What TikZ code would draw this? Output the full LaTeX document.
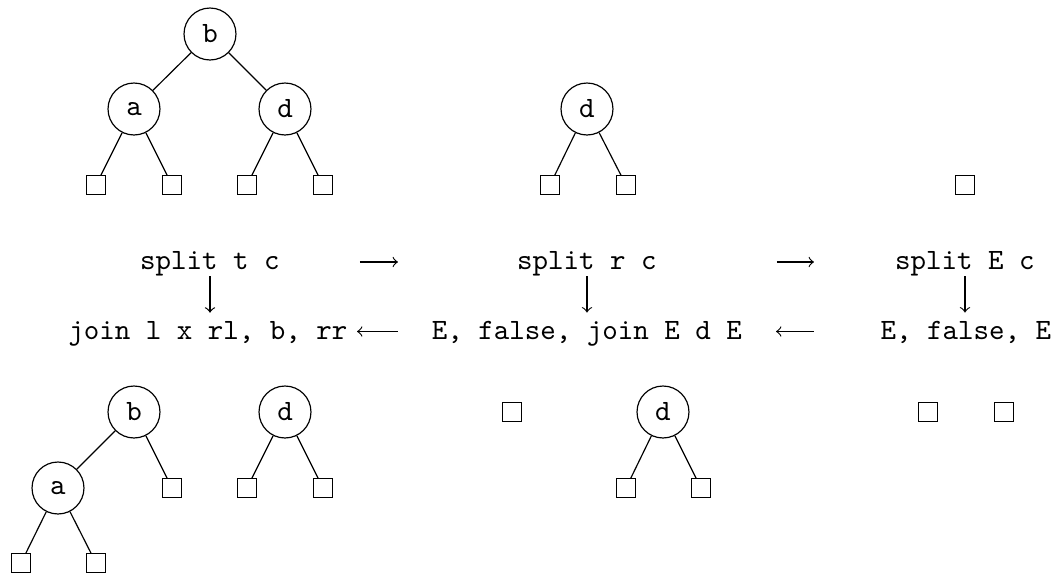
\documentclass[tikz,border=0pt]{standalone}
\begin{document}
\begin{tikzpicture}[x=0.3387pt,y=-0.3387pt,
  key/.style={draw,circle,minimum size=17.6pt,inner sep=0pt,font=\ttfamily},
  leaf/.style={draw,rectangle,minimum size=6.2pt,inner sep=0pt},
  expr/.style={anchor=base,inner sep=0pt,font=\ttfamily},
  step arrow/.style={->,line width=0.4pt},
  every path/.style={line width=0.4pt}]
\useasboundingbox (0,0) rectangle (1054,577);

% ---- trees before the split ----
\node[key] (t1b) at (210,34) {b};
\node[key] (t1a) at (134,109) {a};
\node[key] (t1d) at (285,109) {d};
\node[leaf] (t1l1) at (96,185) {};
\node[leaf] (t1l2) at (172,185) {};
\node[leaf] (t1l3) at (247,185) {};
\node[leaf] (t1l4) at (323,185) {};
\draw (t1b) -- (t1a) (t1b) -- (t1d)
      (t1a) -- (t1l1) (t1a) -- (t1l2)
      (t1d) -- (t1l3) (t1d) -- (t1l4);

\node[key] (t2d) at (587,109) {d};
\node[leaf] (t2l1) at (550,185) {};
\node[leaf] (t2l2) at (626,185) {};
\draw (t2d) -- (t2l1) (t2d) -- (t2l2);

\node[leaf] (t3e) at (965,185) {};

% ---- calls and results ----
\node[expr] (s1) at (210,269) {split t c};
\node[expr] (s2) at (587,269) {split r c};
\node[expr] (s3) at (965,269) {split E c};
\node[expr] (r1) at (208,339) {join l x rl, b, rr};
\node[expr] (r2) at (587,339) {E, false, join E d E};
\node[expr] (r3) at (966,339) {E, false, E};

\draw[step arrow,shorten >=2.6pt] (s1.south) -- (s1.south |- r1.north);
\draw[step arrow,shorten >=2.6pt] (s2.south) -- (s2.south |- r2.north);
\draw[step arrow,shorten >=2.6pt] (s3.south) -- (s3.south |- r3.north);

\coordinate (c1a) at (360,262);
\coordinate (c1b) at (398,262);
\coordinate (c2a) at (777,262);
\coordinate (c2b) at (814,262);
\coordinate (d1a) at (398,331.5);
\coordinate (d1b) at (357,331.5);
\coordinate (d2a) at (814,331.5);
\coordinate (d2b) at (776,331.5);
\draw[step arrow] (c1a) -- (c1b);
\draw[step arrow] (c2a) -- (c2b);
\draw[step arrow] (d1a) -- (d1b);
\draw[step arrow] (d2a) -- (d2b);

% ---- trees after the split ----
\node[key] (u1b) at (134,412) {b};
\node[key] (u1a) at (58,488) {a};
\node[leaf] (u1r) at (172,488) {};
\node[leaf] (u1l1) at (21,563) {};
\node[leaf] (u1l2) at (96,563) {};
\draw (u1b) -- (u1a) (u1b) -- (u1r)
      (u1a) -- (u1l1) (u1a) -- (u1l2);

\node[key] (u2d) at (285,412) {d};
\node[leaf] (u2l1) at (247,488) {};
\node[leaf] (u2l2) at (323,488) {};
\draw (u2d) -- (u2l1) (u2d) -- (u2l2);

\node[leaf] (u3e) at (512,412) {};
\node[key] (u4d) at (663,412) {d};
\node[leaf] (u4l1) at (626,488) {};
\node[leaf] (u4l2) at (701,488) {};
\draw (u4d) -- (u4l1) (u4d) -- (u4l2);

\node[leaf] (u5e) at (928,412) {};
\node[leaf] (u6e) at (1004,412) {};
\end{tikzpicture}
\end{document}
